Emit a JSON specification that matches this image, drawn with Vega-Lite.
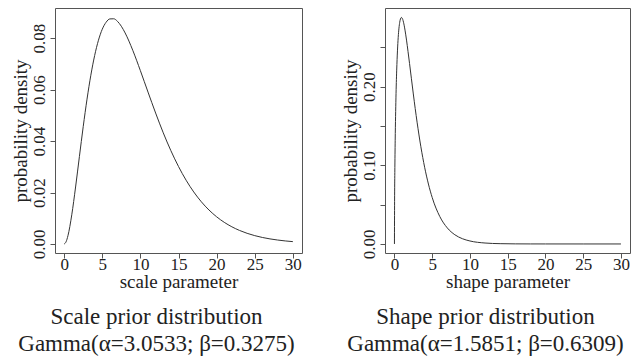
{
  "$schema": "https://vega.github.io/schema/vega-lite/v6.json",
  "padding": {"left": 10, "top": 7, "right": 5, "bottom": 0},
  "background": "white",
  "spacing": 37,
  "config": {
    "font": "Liberation Serif",
    "view": {"stroke": "#555", "strokeWidth": 1},
    "axis": {
      "domain": false, "grid": false,
      "tickColor": "#555", "tickSize": 5,
      "labelFont": "Liberation Serif", "labelFontSize": 17, "labelColor": "#222",
      "titleFont": "Liberation Serif", "titleFontSize": 19, "titleFontWeight": "normal", "titleColor": "#222"
    },
    "title": {"font": "Liberation Serif", "fontSize": 23, "fontWeight": "normal", "color": "#222", "orient": "bottom", "anchor": "middle", "frame": "bounds", "lineHeight": 27, "offset": 15}
  },
  "datasets": {
    "scale": [
      {"x": 0, "y": 0}, {"x": 0.25, "y": 0.000843}, {"x": 0.5, "y": 0.003221}, {"x": 1, "y": 0.01135},
      {"x": 1.5, "y": 0.02215}, {"x": 2, "y": 0.03395}, {"x": 2.5, "y": 0.04559}, {"x": 3, "y": 0.05628},
      {"x": 3.5, "y": 0.06558}, {"x": 4, "y": 0.07323}, {"x": 4.5, "y": 0.07918}, {"x": 5, "y": 0.08345},
      {"x": 5.5, "y": 0.08615}, {"x": 6, "y": 0.08746}, {"x": 6.5, "y": 0.08751}, {"x": 7, "y": 0.0865},
      {"x": 7.5, "y": 0.08461}, {"x": 8, "y": 0.08201}, {"x": 9, "y": 0.07527}, {"x": 10, "y": 0.06735},
      {"x": 11, "y": 0.05903}, {"x": 12, "y": 0.05088}, {"x": 13, "y": 0.0432}, {"x": 14, "y": 0.03626},
      {"x": 15, "y": 0.03011}, {"x": 16, "y": 0.02478}, {"x": 17, "y": 0.02022}, {"x": 18, "y": 0.01639},
      {"x": 19, "y": 0.0132}, {"x": 20, "y": 0.01057}, {"x": 21, "y": 0.00842}, {"x": 22, "y": 0.00668},
      {"x": 23, "y": 0.00527}, {"x": 24, "y": 0.00415}, {"x": 25, "y": 0.00325}, {"x": 26, "y": 0.00254},
      {"x": 27, "y": 0.00198}, {"x": 28, "y": 0.00154}, {"x": 29, "y": 0.00119}, {"x": 30, "y": 0.000919}
    ],
    "shape": [
      {"x": 0, "y": 0}, {"x": 0.02, "y": 0.0541}, {"x": 0.05, "y": 0.0907}, {"x": 0.1, "y": 0.1318},
      {"x": 0.2, "y": 0.1857}, {"x": 0.3, "y": 0.221}, {"x": 0.4, "y": 0.2455}, {"x": 0.5, "y": 0.2627},
      {"x": 0.6, "y": 0.2744}, {"x": 0.7, "y": 0.2819}, {"x": 0.8, "y": 0.2862}, {"x": 0.9, "y": 0.2879},
      {"x": 1.0, "y": 0.2875}, {"x": 1.2, "y": 0.2819}, {"x": 1.4, "y": 0.2719}, {"x": 1.6, "y": 0.2592},
      {"x": 1.8, "y": 0.2447}, {"x": 2.0, "y": 0.2295}, {"x": 2.5, "y": 0.1907}, {"x": 3, "y": 0.1548},
      {"x": 3.5, "y": 0.1236}, {"x": 4, "y": 0.0975}, {"x": 4.5, "y": 0.0762}, {"x": 5, "y": 0.0591},
      {"x": 6, "y": 0.035}, {"x": 7, "y": 0.0204}, {"x": 8, "y": 0.0117}, {"x": 9, "y": 0.00668},
      {"x": 10, "y": 0.00378}, {"x": 12, "y": 0.00119}, {"x": 14, "y": 0.000369}, {"x": 16, "y": 0.000113},
      {"x": 18, "y": 0.000034}, {"x": 20, "y": 0.0000103}, {"x": 25, "y": 0.0000005}, {"x": 30, "y": 0}
    ]
  },
  "hconcat": [
    {
      "width": 247, "height": 245,
      "data": {"name": "scale"},
      "title": {"text": ["Scale prior distribution", "Gamma(α=3.0533; β=0.3275)"]},
      "mark": {"type": "line", "interpolate": "monotone", "color": "#333", "strokeWidth": 1},
      "encoding": {
        "x": {"field": "x", "type": "quantitative", "title": "scale parameter",
              "scale": {"domain": [-1.2, 31.2], "nice": false, "zero": false},
              "axis": {"values": [0, 5, 10, 15, 20, 25, 30], "labelPadding": -2, "titlePadding": 0}},
        "y": {"field": "y", "type": "quantitative", "title": "probability density",
              "scale": {"domain": [-0.0035, 0.0917], "nice": false, "zero": false},
              "axis": {"values": [0, 0.02, 0.04, 0.06, 0.08], "format": ".2f", "labelAngle": -90,
                       "labelAlign": "center", "labelBaseline": "bottom", "labelPadding": 2, "titlePadding": 0}}
      }
    },
    {
      "width": 245, "height": 245,
      "data": {"name": "shape"},
      "title": {"text": ["Shape prior distribution", "Gamma(α=1.5851; β=0.6309)"]},
      "mark": {"type": "line", "interpolate": "monotone", "color": "#333", "strokeWidth": 1},
      "encoding": {
        "x": {"field": "x", "type": "quantitative", "title": "shape parameter",
              "scale": {"domain": [-1.25, 31.2], "nice": false, "zero": false},
              "axis": {"values": [0, 5, 10, 15, 20, 25, 30], "labelPadding": -2, "titlePadding": 0}},
        "y": {"field": "y", "type": "quantitative", "title": "probability density",
              "scale": {"domain": [-0.0115, 0.3], "nice": false, "zero": false},
              "axis": {"values": [0, 0.05, 0.1, 0.15, 0.2, 0.25],
                       "labelExpr": "indexof(['0.00','0.10','0.20'], format(datum.value, '.2f')) >= 0 ? format(datum.value, '.2f') : ''",
                       "labelAngle": -90, "labelAlign": "center", "labelBaseline": "bottom", "labelPadding": 2, "titlePadding": 0}}
      }
    }
  ]
}
